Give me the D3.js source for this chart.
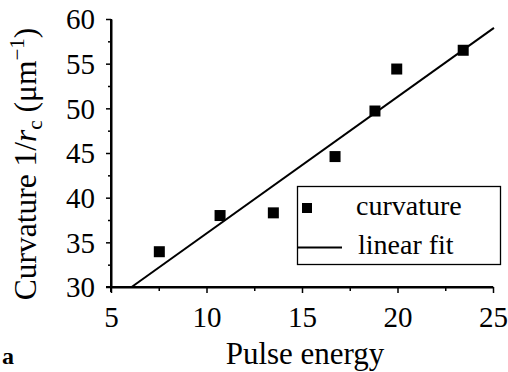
<!DOCTYPE html>
<html><head><meta charset="utf-8">
<script src="https://cdn.jsdelivr.net/npm/d3@7"></script>
<style>
html,body{margin:0;padding:0;background:#fff;}
svg{display:block;}
svg text{font-family:"Liberation Serif","Times New Roman",serif;}
</style></head>
<body><svg id="c" width="508" height="372"></svg>
<script>
const pulseEnergy = [7.53, 10.71, 13.5, 16.73, 18.82, 19.96, 23.44];
const curvature   = [33.95, 38.0, 38.3, 44.6, 49.7, 54.4, 56.5];
const fitEnergy    = [6.08, 25.05];
const fitCurvature = [30.0, 59.0];
const xTicks = [5, 10, 15, 20, 25];
const yTicks = [30, 35, 40, 45, 50, 55, 60];
const xMinorTicks = [7.5, 12.5, 17.5, 22.5];
const yMinorTicks = [32.5, 37.5, 42.5, 47.5, 52.5, 57.5];
const legendLabels = ["curvature", "linear fit"];

const svg = d3.select("#c");
const x = d3.scaleLinear().domain([5, 25]).range([111, 493]);
const y = d3.scaleLinear().domain([30, 60]).range([287, 19]);

// x axis
const gx = svg.append("g").attr("transform", `translate(0,${y(30)})`);
gx.call(d3.axisBottom(x).tickValues(xTicks).tickSize(6).tickSizeOuter(0).tickFormat(d3.format("d")));
gx.append("g").call(d3.axisBottom(x).tickValues(xMinorTicks).tickSize(4).tickSizeOuter(0).tickFormat(""));
gx.selectAll("g").attr("font-family", null);
gx.attr("font-family", null);
gx.selectAll(".domain").attr("stroke", "#000").attr("stroke-width", 2);
gx.selectAll(".tick line").attr("stroke", "#000").attr("stroke-width", 1.5);
gx.selectAll(".tick text").attr("font-size", 29).attr("fill", "#000").attr("dy", 0).attr("y", 40);
gx.select(".domain").attr("d", `M${x(5) - 5},0H${x(25)}`);

// y axis
const gy = svg.append("g").attr("transform", `translate(${x(5)},0)`);
gy.call(d3.axisLeft(y).tickValues(yTicks).tickSize(5).tickSizeOuter(0).tickFormat(d3.format("d")));
gy.append("g").call(d3.axisLeft(y).tickValues(yMinorTicks).tickSize(3).tickSizeOuter(0).tickFormat(""));
gy.attr("font-family", null);
gy.selectAll("g").attr("font-family", null);
gy.selectAll(".domain").attr("stroke", "#000").attr("stroke-width", 2);
gy.select(".domain").attr("d", `M0,${y(60)}V${y(30) + 5}`);
gy.selectAll(".tick line").attr("stroke", "#000").attr("stroke-width", 1.5);
gy.selectAll(".tick text").attr("font-size", 29).attr("fill", "#000").attr("x", -16).attr("dy", "0.34em");

// fit line
svg.append("line")
  .attr("x1", x(fitEnergy[0])).attr("y1", y(fitCurvature[0]))
  .attr("x2", x(fitEnergy[1])).attr("y2", y(fitCurvature[1]))
  .attr("stroke", "#000").attr("stroke-width", 2);

// points
const s = 11;
svg.selectAll("rect.pt").data(pulseEnergy.map((e, i) => [e, curvature[i]])).join("rect")
  .attr("class", "pt")
  .attr("x", d => x(d[0]) - s / 2).attr("y", d => y(d[1]) - s / 2)
  .attr("width", s).attr("height", s).attr("fill", "#000");

// legend
const lg = svg.append("g");
lg.append("rect").attr("x", 297.5).attr("y", 186.5).attr("width", 203).attr("height", 78)
  .attr("fill", "#fff").attr("stroke", "#000").attr("stroke-width", 1.3);
lg.append("rect").attr("x", 302).attr("y", 203).attr("width", 10).attr("height", 10).attr("fill", "#000");
lg.append("line").attr("x1", 297).attr("x2", 342).attr("y1", 247.5).attr("y2", 247.5)
  .attr("stroke", "#000").attr("stroke-width", 2);
lg.append("text").attr("x", 356).attr("y", 215).attr("font-size", 28).text(legendLabels[0]);
lg.append("text").attr("x", 358).attr("y", 254).attr("font-size", 28).text(legendLabels[1]);

// axis titles
svg.append("text").attr("x", 305).attr("y", 364).attr("text-anchor", "middle").attr("font-size", 31)
  .text("Pulse energy");
const yt = svg.append("text").attr("transform", "translate(36,164) rotate(-90)")
  .attr("text-anchor", "middle").attr("font-size", 31.5);
yt.append("tspan").text("Curvature 1/");
yt.append("tspan").attr("font-style", "italic").text("r");
yt.append("tspan").attr("font-size", 21).attr("dy", 6).text("c");
yt.append("tspan").attr("dy", -6).text(" (μm");
yt.append("tspan").attr("font-size", 21).attr("dy", -12).text("−1");
yt.append("tspan").attr("dy", 12).text(")");

// panel label
svg.append("text").attr("x", 2).attr("y", 364).attr("font-size", 24).attr("font-weight", "bold").text("a");
</script></body></html>
